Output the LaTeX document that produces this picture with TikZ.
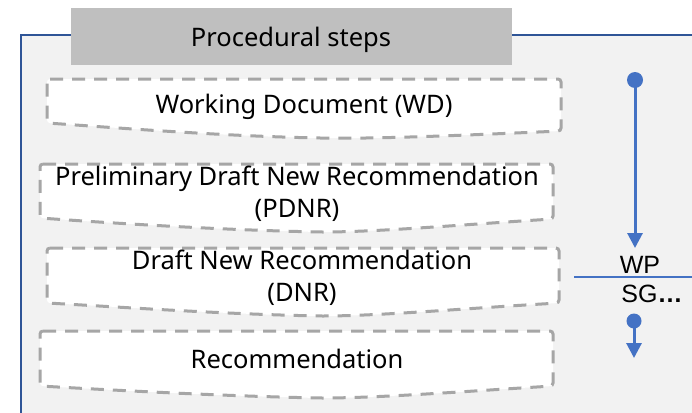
\documentclass[tikz,border=0pt]{standalone}
\usepackage{fontspec}
\setmainfont{Noto Sans}
\newfontfamily\labelfont{Liberation Sans}
\usetikzlibrary{arrows.meta}

\definecolor{panelfill}{HTML}{F2F2F2}
\definecolor{panelline}{HTML}{2F5597}
\definecolor{titlefill}{HTML}{BFBFBF}
\definecolor{dashgray}{HTML}{A6A6A6}
\definecolor{flowblue}{HTML}{4472C4}

\tikzset{
  stepbox/.style={draw=dashgray, line width=3pt, dash pattern=on 13pt off 9pt,
                  fill=white, rounded corners=3pt},
  steptext/.style={font=\fontsize{25.5}{32}\selectfont, align=center, inner sep=0pt},
  sidelabel/.style={font=\labelfont\fontsize{25}{30}\selectfont, inner sep=0pt},
  flowdot/.style={circle, fill=flowblue, inner sep=0pt, minimum size=#1},
  flowline/.style={draw=flowblue, line width=3pt,
                   -{Triangle[width=15pt,length=15pt]}},
}

\begin{document}
\begin{tikzpicture}[x=1pt,y=-1pt]
\useasboundingbox (0,0) rectangle (692,412);

% background panel with blue top and left border
\fill[panelfill] (21,35) rectangle (700,420);
\draw[panelline, line width=2pt] (21,420) -- (21,35) -- (700,35);

% title tab
\fill[titlefill] (71,8) rectangle (512,65);
\node[steptext, anchor=base] (title) at (291,47) {Procedural steps};

% step boxes with dashed outline and a sagging lower edge
\path[stepbox] (47,79) -- (561,79) -- (561,131)
  .. controls (470,135) and (380,139) .. (320,138)
  .. controls (220,136) and (120,128) .. (47,123) -- cycle;
\node[steptext, anchor=base] (wd) at (304,113) {Working Document (WD)};

\path[stepbox] (40,164) -- (553,164) -- (553,219)
  .. controls (470,224) and (380,232) .. (320,232)
  .. controls (220,230) and (110,223) .. (40,218) -- cycle;
\node[steptext, anchor=base] (pdnr) at (297,217) {Preliminary Draft New Recommendation\\(PDNR)};

\path[stepbox] (47,248) -- (559,248) -- (559,303)
  .. controls (470,308) and (380,316) .. (320,316)
  .. controls (220,314) and (120,307) .. (47,303) -- cycle;
\node[steptext, anchor=base] (dnr) at (302,301) {Draft New Recommendation\\(DNR)};

\path[stepbox] (40,331) -- (553,331) -- (553,386)
  .. controls (470,391) and (380,398) .. (320,398)
  .. controls (220,396) and (110,390) .. (40,386) -- cycle;
\node[steptext, anchor=base] (rec) at (297,368) {Recommendation};

% flow arrows on the right
\node[flowdot=16pt] (topdot) at (635,80) {};
\coordinate (toptip) at (635,248);
\draw[flowline] (topdot.center) -- (toptip);

\node[flowdot=15pt] (lowdot) at (634,321) {};
\coordinate (lowtip) at (634,358);
\draw[flowline] (lowdot.center) -- (lowtip);

% WP / SG divider
\node[sidelabel, anchor=base] (wp) at (640,273) {WP};
\node[sidelabel, anchor=base] (sg) at (652,302) {SG\textbf{…}};
\coordinate (divl) at (574,277);
\coordinate (divr) at (700,277);
\draw[flowblue, line width=1.2pt] (divl) -- (divr);
\end{tikzpicture}
\end{document}
